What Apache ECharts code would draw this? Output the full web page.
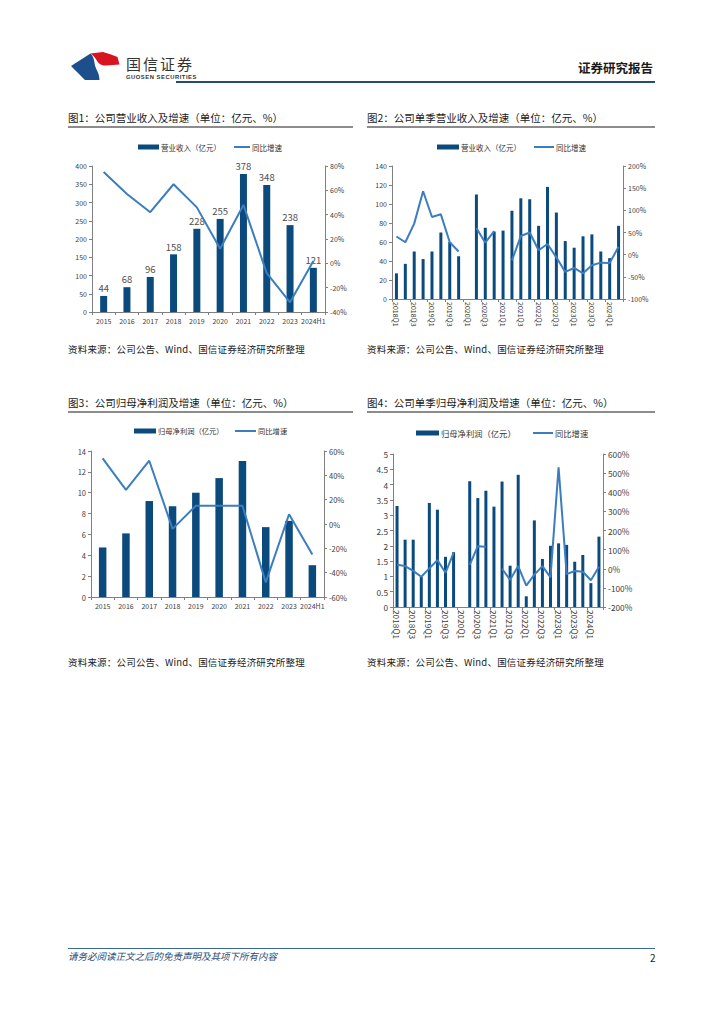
<!DOCTYPE html>
<html><head><meta charset="utf-8">
<script src="https://cdn.jsdelivr.net/npm/echarts@6/dist/echarts.min.js"></script>
<style>
html,body{margin:0;padding:0;background:#fff;}
#page{position:relative;width:724px;height:1024px;overflow:hidden;font-family:"Noto Sans CJK SC","Noto Sans",sans-serif;background:#fff;}
#chart{position:absolute;left:0;top:0;width:724px;height:1024px;}
.t{position:absolute;white-space:nowrap;color:#222;line-height:1;}
.title{font-size:10.5px;color:#1a1a1a;}
.rule{position:absolute;height:2px;background:#8c8c8c;}
.src{font-size:9.5px;letter-spacing:0.2px;color:#1a1a1a;}
</style></head>
<body><div id="page">
<div id="chart"></div>
<svg style="position:absolute;left:0;top:0" width="724" height="100" viewBox="0 0 724 100">
  <path d="M71,66 L90.5,53.5 C95,58 94,63 95.5,67 C97,71 99.5,74 99.5,80 L85,80 Z" fill="#1c4f8c"/>
  <path d="M90.5,53.5 L103,52 L111,54.5 L117.5,57 L119.5,64.5 L106,65.5 C101,66 98,63 96.5,60 C95,57.5 93,55.5 90.5,53.5 Z" fill="#d7141f"/>
</svg>
<div class="t" style="left:126px;top:56px;font-size:15px;letter-spacing:2px;color:#333;">国信证券</div>
<div class="t" style="left:126px;top:74.5px;font-size:5.8px;letter-spacing:0.55px;color:#333;font-family:'Liberation Sans',Arial,sans-serif;font-weight:bold;">GUOSEN SECURITIES</div>
<div class="t" style="left:578px;top:62px;font-size:12.5px;font-weight:bold;color:#1a1a1a;">证券研究报告</div>
<div style="position:absolute;left:176px;top:81px;width:479px;height:2px;background:#1f4e79;"></div>

<div class="t title" style="left:68px;top:113px;">图1：公司营业收入及增速（单位：亿元、%）</div>
<div class="rule" style="left:68px;top:126px;width:285px;"></div>
<div class="t title" style="left:367px;top:113px;">图2：公司单季营业收入及增速（单位：亿元、%）</div>
<div class="rule" style="left:367px;top:126px;width:288px;"></div>
<div class="t title" style="left:68px;top:398px;">图3：公司归母净利润及增速（单位：亿元、%）</div>
<div class="rule" style="left:68px;top:411px;width:285px;"></div>
<div class="t title" style="left:367px;top:398px;">图4：公司单季归母净利润及增速（单位：亿元、%）</div>
<div class="rule" style="left:367px;top:411px;width:288px;"></div>

<div class="t src" style="left:68px;top:345px;">资料来源：公司公告、Wind、国信证券经济研究所整理</div>
<div class="t src" style="left:367px;top:345px;">资料来源：公司公告、Wind、国信证券经济研究所整理</div>
<div class="t src" style="left:68px;top:658px;">资料来源：公司公告、Wind、国信证券经济研究所整理</div>
<div class="t src" style="left:367px;top:658px;">资料来源：公司公告、Wind、国信证券经济研究所整理</div>

<div style="position:absolute;left:68px;top:948px;width:587px;height:1px;background:#3a6a9a;"></div>
<div class="t" style="left:68px;top:952px;font-size:9.5px;font-style:italic;color:#1f4e79;">请务必阅读正文之后的免责声明及其项下所有内容</div>
<div class="t" style="left:650px;top:953px;font-size:10px;color:#222;">2</div>
</div>
<script>
// ---------- data ----------
const years = ['2015','2016','2017','2018','2019','2020','2021','2022','2023','2024H1'];
const revenue = [44,68,96,158,228,255,378,348,238,121];
const revenueYoY = [75,57,42,65,46,12,48,-8,-32,2];
const quarters = ['2018Q1','2018Q2','2018Q3','2018Q4','2019Q1','2019Q2','2019Q3','2019Q4',
  '2020Q1','2020Q2','2020Q3','2020Q4','2021Q1','2021Q2','2021Q3','2021Q4',
  '2022Q1','2022Q2','2022Q3','2022Q4','2023Q1','2023Q2','2023Q3','2023Q4','2024Q1','2024Q2'];
const qRevenue = [27,37,50,42,50,70,60,45,null,110,75,71,72,93,106,105,77,118,91,61,54,66,68,50,43,77];
const qRevenueYoY = [41,28,70,143,85,91,28,7,null,60,27,53,null,-13,42,50,10,24,-6,-39,-30,-42,-24,-18,-19,18];
const profit = [4.75,6.1,9.2,8.7,10.0,11.4,13.05,6.7,7.3,3.05];
const profitYoY = [54,28,52,-4,15,15,15,-48,8,-25];
const qProfit = [3.3,2.2,2.2,0.98,3.4,3.18,1.64,1.79,null,4.11,3.56,3.8,3.28,4.1,1.35,4.32,0.35,2.83,1.57,2.0,2.08,2.03,1.48,1.7,0.78,2.3];
const qProfitYoY = [21,14,-11,-42,2,45,-21,83,null,20,118,115,null,0,-58,14,-88,-31,14,-45,530,-28,-12,-16,-60,10];
const revName = '营业收入（亿元）';
const profName = '归母净利润（亿元）';
const yoyName = '同比增速';

// ---------- styles ----------
const BAR = '#0b4a7d', LINE = '#3b7dbf', AX = '#808080', LBL = '#404040';
const FONT = '"Noto Sans CJK SC","Noto Sans",sans-serif';

function yL(gi, min, max, interval, fs) {
  return {type:'value', gridIndex:gi, min, max, interval, position:'left',
    axisLine:{show:true, lineStyle:{color:AX, width:1}},
    axisTick:{show:true, length:3, lineStyle:{color:AX}},
    splitLine:{show:false},
    axisLabel:{fontSize:fs, color:LBL, margin:5, fontFamily:FONT}};
}
function yR(gi, min, max, interval, fs) {
  return {type:'value', gridIndex:gi, min, max, interval, position:'right',
    axisLine:{show:true, lineStyle:{color:AX, width:1}},
    axisTick:{show:true, length:3, lineStyle:{color:AX}},
    splitLine:{show:false},
    axisLabel:{fontSize:fs, color:LBL, margin:5, fontFamily:FONT, formatter:'{value}%'}};
}
function xA(gi, data, fs, rot) {
  return {type:'category', gridIndex:gi, data,
    axisLine:{show:true, onZero:false, lineStyle:{color:AX, width:1}},
    axisTick:{show:true, length:3, interval: rot ? 1 : 0, lineStyle:{color:AX}},
    axisLabel:{fontSize:fs, color:LBL, interval: rot ? 1 : 0, rotate: rot ? -90 : 0, margin: rot ? 3 : 5, fontFamily:FONT}};
}
function legendItem(left, centerY, name, fs, w, h) {
  return {left, top: centerY - 6, padding:0, itemWidth:w, itemHeight:h, itemGap:0,
    data:[{name, icon:'rect'}],
    textStyle:{fontSize:fs, color:'#333', fontFamily:FONT, padding:[0,0,0,-3], lineHeight:12, height:12}};
}
function bar(name, xi, yi, data, bw, showLabel) {
  return {type:'bar', name, xAxisIndex:xi, yAxisIndex:yi, data, barWidth:bw,
    itemStyle:{color:BAR},
    label:{show:!!showLabel, position:'top', distance:3, fontSize:9.5, color:'#505050', fontFamily:FONT}};
}
function line(xi, yi, data) {
  return {type:'line', name:yoyName, xAxisIndex:xi, yAxisIndex:yi, data,
    symbol:'none', connectNulls:false, z:5,
    lineStyle:{color:LINE, width:2}, itemStyle:{color:LINE}};
}

const chart = echarts.init(document.getElementById('chart'), null, {renderer:'svg'});
chart.setOption({
  animation:false,
  backgroundColor:'transparent',
  textStyle:{fontFamily:FONT},
  grid:[
    {left:92, top:166, width:233, height:146},
    {left:392, top:166, width:231, height:133},
    {left:91, top:451, width:233, height:146},
    {left:393, top:454, width:210, height:153}
  ],
  legend:[
    legendItem(138, 147, revName, 7.5, 21, 5),
    legendItem(234, 147, yoyName, 7.5, 16, 2),
    legendItem(437, 147, revName, 7.5, 22, 5),
    legendItem(534, 147, yoyName, 7.5, 20, 2),
    legendItem(134, 431, profName, 7.3, 22, 5),
    legendItem(235, 431, yoyName, 7.3, 21, 2),
    legendItem(416, 433, profName, 8.3, 23, 5),
    legendItem(533, 433, yoyName, 8.3, 20, 2)
  ],
  xAxis:[ xA(0, years, 7, false), xA(1, quarters, 7, true), xA(2, years, 7, false), xA(3, quarters, 8.3, true) ],
  yAxis:[
    yL(0, 0, 400, 50, 7), yR(0, -40, 80, 20, 7),
    yL(1, 0, 140, 20, 7), yR(1, -100, 200, 50, 7),
    yL(2, 0, 14, 2, 7.5), yR(2, -60, 60, 20, 7.5),
    yL(3, 0, 5, 0.5, 8.3), yR(3, -200, 600, 100, 8.3)
  ],
  series:[
    bar(revName, 0, 0, revenue, 7, true), line(0, 1, revenueYoY),
    bar(revName, 1, 2, qRevenue, 3, false), line(1, 3, qRevenueYoY),
    bar(profName, 2, 4, profit, 7.5, false), line(2, 5, profitYoY),
    bar(profName, 3, 6, qProfit, 3, false), line(3, 7, qProfitYoY)
  ]
});
</script>
</body></html>
